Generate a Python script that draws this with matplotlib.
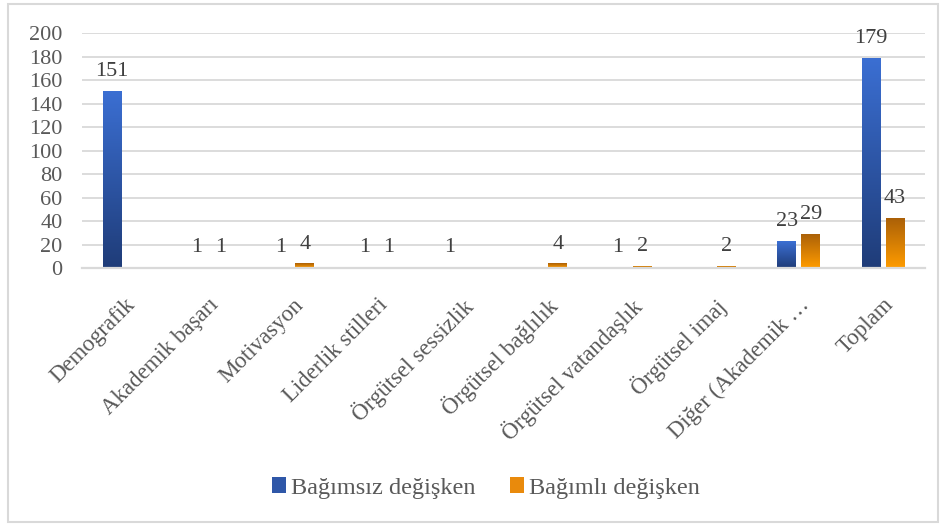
import numpy as np
import matplotlib
matplotlib.use("Agg")
import matplotlib.pyplot as plt
from matplotlib.colors import LinearSegmentedColormap
from matplotlib.patches import Rectangle, Patch

plt.rcParams['font.family'] = ['Liberation Serif', 'DejaVu Serif']

categories = ["Demografik", "Akademik başarı", "Motivasyon", "Liderlik stilleri",
              "Örgütsel sessizlik", "Örgütsel bağlılık", "Örgütsel vatandaşlık",
              "Örgütsel imaj", "Diğer (Akademik …", "Toplam"]
bagimsiz = [151, 1, 1, 1, 1, None, 1, None, 23, 179]
bagimli = [None, 1, 4, 1, None, 4, 2, 2, 29, 43]
series_names = ["Bağımsız değişken", "Bağımlı değişken"]
yticks = list(range(0, 201, 20))

# gradients run bottom -> top of each bar
blue_cmap = LinearSegmentedColormap.from_list("blue_grad", ["#1f3c78", "#3b6fd3"])
orange_cmap = LinearSegmentedColormap.from_list("orange_grad", ["#ff9c00", "#a95f08"])

fig = plt.figure(figsize=(9.47, 5.27), dpi=100)
ax = fig.add_axes([0.0866, 0.4915, 0.8904, 0.4453])

x = np.arange(len(categories))
bw = 0.225
gap = 0.03
offsets = [-(bw / 2 + gap), bw / 2 + gap]
grad = np.linspace(0, 1, 256).reshape(-1, 1)

for vals, off, cmap in [(bagimsiz, offsets[0], blue_cmap), (bagimli, offsets[1], orange_cmap)]:
    for xi, v in zip(x, vals):
        if v is None:
            continue
        bar = ax.bar(xi + off, v, width=bw, color="none", edgecolor="none", zorder=3)[0]
        x0, x1 = xi + off - bw / 2, xi + off + bw / 2
        im = ax.imshow(grad, extent=[x0, x1, 0, v], origin="lower", aspect="auto",
                       cmap=cmap, zorder=3, interpolation="bilinear")
        im.set_clip_path(bar)
        ax.annotate(str(v), (xi + off, v), xytext=(0, 7), textcoords="offset points",
                    ha="center", va="bottom", fontsize=16, color="#404040", zorder=4)

ax.set_xlim(-0.5, len(categories) - 0.5)
ax.set_ylim(0, 200)
ax.set_yticks(yticks)
ax.set_yticklabels([str(t) for t in yticks], fontsize=16, color="#595959")
ax.yaxis.grid(True, color="#d9d9d9", linewidth=1.3)
ax.set_axisbelow(True)
ax.tick_params(axis="both", length=0)
ax.tick_params(axis="y", pad=14)
for s in ["top", "right", "left"]:
    ax.spines[s].set_visible(False)
ax.spines["bottom"].set_color("#d9d9d9")
ax.spines["bottom"].set_linewidth(1.6)
ax.spines["bottom"].set_zorder(5)

ax.set_xticks(x)
ax.set_xticklabels(categories, rotation=45, ha="right", va="top", rotation_mode="anchor",
                   fontsize=16.5, color="#595959")
ax.tick_params(axis="x", pad=19)

handles = [Patch(facecolor="#2f57a8", edgecolor="none"), Patch(facecolor="#e98a0c", edgecolor="none")]
fig.legend(handles, series_names, loc="center", bbox_to_anchor=(0.513, 0.074), ncol=2,
           frameon=False, fontsize=17.5, handlelength=0.6, handleheight=0.6,
           handletextpad=0.2, columnspacing=1.4, labelcolor="#595959")

fig.patches.append(Rectangle((8 / 947, 5 / 527), 930 / 947, 518 / 527, transform=fig.transFigure,
                             fill=False, edgecolor="#d9d9d9", linewidth=1.5))

fig.savefig("out.png", dpi=100)
